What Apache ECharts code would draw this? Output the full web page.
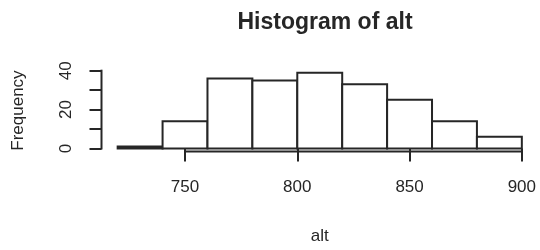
<!DOCTYPE html>
<html>
<head>
<meta charset="utf-8">
<script src="https://cdn.jsdelivr.net/npm/echarts@6/dist/echarts.min.js"></script>
<style>html,body{margin:0;padding:0;background:#fff;}#c{width:540px;height:250px;}</style>
</head>
<body>
<div id="c"></div>
<script>
const binEdges = [720, 740, 760, 780, 800, 820, 840, 860, 880, 900];
const counts = [1, 14, 36, 35, 39, 33, 25, 14, 6];
const xTicks = [750, 800, 850, 900];
const yTicks = [0, 10, 20, 30, 40];
const yLabels = [0, 20, 40];
const titleText = 'Histogram of alt';
const xName = 'alt';
const yName = 'Frequency';

const xSpan = binEdges[binEdges.length - 1] - binEdges[0];
const xMin = binEdges[0] - 0.04 * xSpan;
const xMax = binEdges[binEdges.length - 1] + 0.04 * xSpan;
const yTop = Math.max(...counts);
const yMin = -0.04 * yTop;
const yMax = 40.56;

const ink = '#262626';
const font = 'Liberation Sans, Arial, sans-serif';

const bars = counts.map((c, i) => [binEdges[i], binEdges[i + 1], c]);

const chart = echarts.init(document.getElementById('c'), null, {renderer: 'canvas'});
chart.setOption({
  animation: false,
  backgroundColor: '#fff',
  title: {
    text: titleText, left: 320, top: 6, textAlign: 'center',
    textStyle: {fontFamily: font, fontSize: 23, fontWeight: 'bold', color: ink}
  },
  grid: {left: 101.5, right: 2, top: 69.6, bottom: 98.5, containLabel: false, outerBoundsMode: 'none'},
  xAxis: {
    type: 'value', min: xMin, max: xMax,
    name: xName, nameLocation: 'middle', nameGap: 76,
    nameTextStyle: {fontFamily: font, fontSize: 17, color: ink},
    axisLine: {show: false},
    axisTick: {show: true, customValues: xTicks, length: 13, lineStyle: {color: ink, width: 2}},
    axisLabel: {customValues: xTicks, margin: 27, fontFamily: font, fontSize: 17, color: ink},
    splitLine: {show: false}
  },
  yAxis: {
    type: 'value', min: yMin, max: yMax,
    name: yName, nameLocation: 'middle', nameGap: 75, nameRotate: 90,
    nameTextStyle: {fontFamily: font, fontSize: 17, color: ink},
    axisLine: {show: false},
    axisTick: {show: true, customValues: yTicks, length: 12, lineStyle: {color: ink, width: 2}},
    axisLabel: {customValues: yLabels, rotate: 90, margin: 27, fontFamily: font, fontSize: 17, color: ink},
    splitLine: {show: false}
  },
  series: [
    {
      type: 'custom',
      data: bars,
      renderItem: function (params, api) {
        const p0 = api.coord([api.value(0), api.value(2)]);
        const p1 = api.coord([api.value(1), 0]);
        return {
          type: 'rect',
          shape: {x: p0[0], y: p0[1], width: p1[0] - p0[0], height: p1[1] - p0[1]},
          style: {fill: '#fff', stroke: ink, lineWidth: 2}
        };
      }
    },
    {
      type: 'custom',
      data: [[xTicks[0], xTicks[xTicks.length - 1]]],
      renderItem: function (params, api) {
        const a = api.coord([api.value(0), yMin]);
        const b = api.coord([api.value(1), yMin]);
        return {type: 'line', shape: {x1: a[0] - 1, y1: a[1], x2: b[0] + 1, y2: b[1]}, style: {stroke: ink, lineWidth: 2}};
      }
    },
    {
      type: 'custom',
      data: [[yTicks[0], yTicks[yTicks.length - 1]]],
      renderItem: function (params, api) {
        const a = api.coord([xMin, api.value(0)]);
        const b = api.coord([xMin, api.value(1)]);
        return {type: 'line', shape: {x1: a[0], y1: a[1] + 1, x2: b[0], y2: b[1] - 1}, style: {stroke: ink, lineWidth: 2}};
      }
    }
  ]
});
</script>
</body>
</html>
